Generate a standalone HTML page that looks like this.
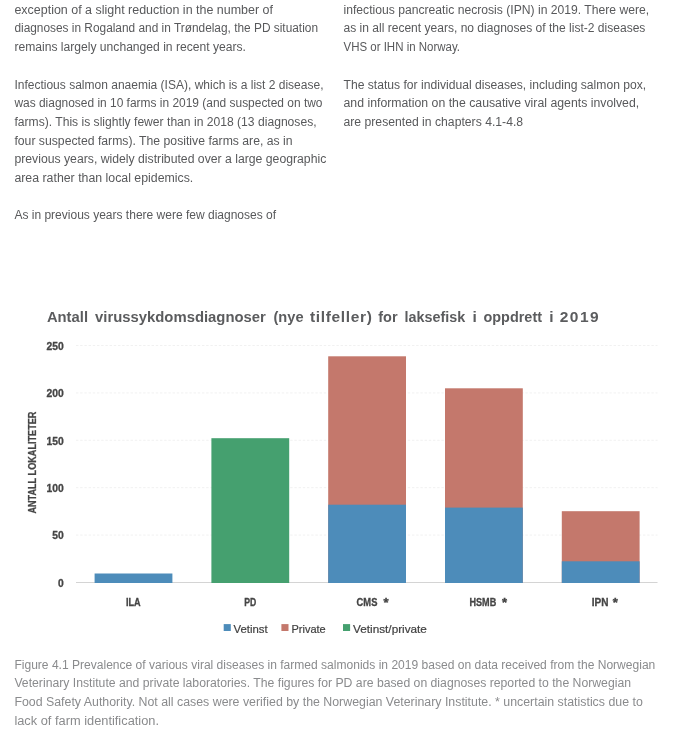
<!DOCTYPE html>
<html lang="en"><head><meta charset="utf-8"><title>Figure 4.1</title>
<style>
html,body{margin:0;padding:0;background:#fff;}
body{width:674px;height:737px;overflow:hidden;font-family:"Liberation Sans",sans-serif;}
svg{display:block;}
.b{font-size:12px;fill:#58595b;}
.c{font-size:12px;fill:#8a8b8d;}
.t{font-size:15.5px;font-weight:bold;fill:#5b5c5e;}
.a{font-size:10.4px;font-weight:bold;fill:#454545;stroke:#454545;stroke-width:0.3px;}
.y{font-size:10.4px;font-weight:bold;fill:#454545;stroke:#454545;stroke-width:0.25px;}
.s{font-size:13px;font-weight:bold;fill:#454545;stroke:#454545;stroke-width:0.4px;}
.l{font-size:11.6px;fill:#404040;stroke:#404040;stroke-width:0.2px;}
</style></head><body>
<svg width="674" height="737" viewBox="0 0 674 737" font-family="'Liberation Sans', sans-serif">
<rect width="674" height="737" fill="#fff"/>
<text class="b" x="14.4" y="13.7" textLength="258.6" lengthAdjust="spacingAndGlyphs">exception of a slight reduction in the number of</text>
<text class="b" x="14.4" y="32.4" textLength="303.6" lengthAdjust="spacingAndGlyphs">diagnoses in Rogaland and in Trøndelag, the PD situation</text>
<text class="b" x="14.4" y="51.1" textLength="231.6" lengthAdjust="spacingAndGlyphs">remains largely unchanged in recent years.</text>
<text class="b" x="14.4" y="88.5" textLength="309.1" lengthAdjust="spacingAndGlyphs">Infectious salmon anaemia (ISA), which is a list 2 disease,</text>
<text class="b" x="14.4" y="107.2" textLength="308.1" lengthAdjust="spacingAndGlyphs">was diagnosed in 10 farms in 2019 (and suspected on two</text>
<text class="b" x="14.4" y="125.9" textLength="302.2" lengthAdjust="spacingAndGlyphs">farms). This is slightly fewer than in 2018 (13 diagnoses,</text>
<text class="b" x="14.4" y="144.6" textLength="278.2" lengthAdjust="spacingAndGlyphs">four suspected farms). The positive farms are, as in</text>
<text class="b" x="14.4" y="163.3" textLength="311.9" lengthAdjust="spacingAndGlyphs">previous years, widely distributed over a large geographic</text>
<text class="b" x="14.4" y="182.0" textLength="178.9" lengthAdjust="spacingAndGlyphs">area rather than local epidemics.</text>
<text class="b" x="14.4" y="219.4" textLength="261.7" lengthAdjust="spacingAndGlyphs">As in previous years there were few diagnoses of</text>
<text class="b" x="343.5" y="13.7" textLength="305.7" lengthAdjust="spacingAndGlyphs">infectious pancreatic necrosis (IPN) in 2019. There were,</text>
<text class="b" x="343.5" y="32.4" textLength="301.9" lengthAdjust="spacingAndGlyphs">as in all recent years, no diagnoses of the list-2 diseases</text>
<text class="b" x="343.5" y="51.1" textLength="116.5" lengthAdjust="spacingAndGlyphs">VHS or IHN in Norway.</text>
<text class="b" x="343.5" y="88.5" textLength="302.7" lengthAdjust="spacingAndGlyphs">The status for individual diseases, including salmon pox,</text>
<text class="b" x="343.5" y="107.2" textLength="295.7" lengthAdjust="spacingAndGlyphs">and information on the causative viral agents involved,</text>
<text class="b" x="343.5" y="125.9" textLength="179.6" lengthAdjust="spacingAndGlyphs">are presented in chapters 4.1-4.8</text>
<text class="t" y="321.6"><tspan x="46.9" textLength="41.1" lengthAdjust="spacingAndGlyphs">Antall</tspan> <tspan x="95.0" textLength="170.9" lengthAdjust="spacingAndGlyphs">virussykdomsdiagnoser</tspan> <tspan x="273.5" textLength="30.1" lengthAdjust="spacingAndGlyphs">(nye</tspan> <tspan x="310.0" textLength="61.8" lengthAdjust="spacing">tilfeller)</tspan> <tspan x="378.3" textLength="19.3" lengthAdjust="spacingAndGlyphs">for</tspan> <tspan x="404.5" textLength="60.7" lengthAdjust="spacingAndGlyphs">laksefisk</tspan> <tspan x="472.6">i</tspan> <tspan x="483.5" textLength="58.5" lengthAdjust="spacingAndGlyphs">oppdrett</tspan> <tspan x="549.2">i</tspan> <tspan x="559.7" textLength="39.0" lengthAdjust="spacing">2019</tspan></text>
<line x1="76" x2="657.5" y1="535.1" y2="535.1" stroke="#efefef" stroke-width="0.9" stroke-dasharray="2.4 1.8"/>
<line x1="76" x2="657.5" y1="487.7" y2="487.7" stroke="#efefef" stroke-width="0.9" stroke-dasharray="2.4 1.8"/>
<line x1="76" x2="657.5" y1="440.3" y2="440.3" stroke="#efefef" stroke-width="0.9" stroke-dasharray="2.4 1.8"/>
<line x1="76" x2="657.5" y1="392.9" y2="392.9" stroke="#efefef" stroke-width="0.9" stroke-dasharray="2.4 1.8"/>
<line x1="76" x2="657.5" y1="345.5" y2="345.5" stroke="#efefef" stroke-width="0.9" stroke-dasharray="2.4 1.8"/>
<text class="a" x="58.1" y="586.7" textLength="5.7" lengthAdjust="spacingAndGlyphs">0</text>
<text class="a" x="52.3" y="539.3" textLength="11.5" lengthAdjust="spacingAndGlyphs">50</text>
<text class="a" x="46.6" y="491.9" textLength="17.2" lengthAdjust="spacingAndGlyphs">100</text>
<text class="a" x="46.6" y="444.5" textLength="17.2" lengthAdjust="spacingAndGlyphs">150</text>
<text class="a" x="46.6" y="397.1" textLength="17.2" lengthAdjust="spacingAndGlyphs">200</text>
<text class="a" x="46.6" y="349.7" textLength="17.2" lengthAdjust="spacingAndGlyphs">250</text>
<line x1="76" x2="657.5" y1="582.5" y2="582.5" stroke="#d4d4d4" stroke-width="1.1"/>
<rect x="94.6" y="573.5" width="77.8" height="9.5" fill="#4d8cba"/>
<rect x="211.4" y="438.2" width="77.8" height="144.8" fill="#45a06f"/>
<rect x="328.2" y="356.3" width="77.8" height="226.7" fill="#c4786c"/>
<rect x="328.2" y="504.7" width="77.8" height="78.3" fill="#4d8cba"/>
<rect x="445.0" y="388.3" width="77.8" height="194.7" fill="#c4786c"/>
<rect x="445.0" y="507.6" width="77.8" height="75.4" fill="#4d8cba"/>
<rect x="561.8" y="511.2" width="77.8" height="71.8" fill="#c4786c"/>
<rect x="561.8" y="561.3" width="77.8" height="21.7" fill="#4d8cba"/>
<text class="a" x="125.9" y="605.9" textLength="14.7" lengthAdjust="spacingAndGlyphs">ILA</text>
<text class="a" x="244.2" y="605.9" textLength="12.0" lengthAdjust="spacingAndGlyphs">PD</text>
<text class="a" x="356.6" y="605.9" textLength="20.8" lengthAdjust="spacingAndGlyphs">CMS</text>
<text class="s" x="383.4" y="607.4">*</text>
<text class="a" x="469.5" y="605.9" textLength="26.7" lengthAdjust="spacingAndGlyphs">HSMB</text>
<text class="s" x="502.1" y="607.4">*</text>
<text class="a" x="591.8" y="605.9" textLength="16.7" lengthAdjust="spacingAndGlyphs">IPN</text>
<text class="s" x="612.8" y="607.4">*</text>
<text class="y" transform="translate(35.6 513.6) rotate(-90)" textLength="102" lengthAdjust="spacingAndGlyphs">ANTALL LOKALITETER</text>
<rect x="223.7" y="624.1" width="7.1" height="6.9" fill="#4d8cba"/>
<text class="l" x="233.5" y="632.8" textLength="34.1" lengthAdjust="spacingAndGlyphs">Vetinst</text>
<rect x="281.4" y="624.1" width="7.1" height="6.9" fill="#c4786c"/>
<text class="l" x="291.5" y="632.8" textLength="34.2" lengthAdjust="spacingAndGlyphs">Private</text>
<rect x="343" y="624.1" width="7.1" height="6.9" fill="#45a06f"/>
<text class="l" x="353.1" y="632.8" textLength="73.8" lengthAdjust="spacingAndGlyphs">Vetinst/private</text>
<text class="c" x="14.4" y="669.1" textLength="640.9" lengthAdjust="spacingAndGlyphs">Figure 4.1 Prevalence of various viral diseases in farmed salmonids in 2019 based on data received from the Norwegian</text>
<text class="c" x="14.4" y="687.0" textLength="616.6" lengthAdjust="spacingAndGlyphs">Veterinary Institute and private laboratories. The figures for PD are based on diagnoses reported to the Norwegian</text>
<text class="c" x="14.4" y="706.2" textLength="628.4" lengthAdjust="spacingAndGlyphs">Food Safety Authority. Not all cases were verified by the Norwegian Veterinary Institute. * uncertain statistics due to</text>
<text class="c" x="14.4" y="724.9" textLength="144.6" lengthAdjust="spacingAndGlyphs">lack of farm identification.</text>
</svg>
</body></html>
